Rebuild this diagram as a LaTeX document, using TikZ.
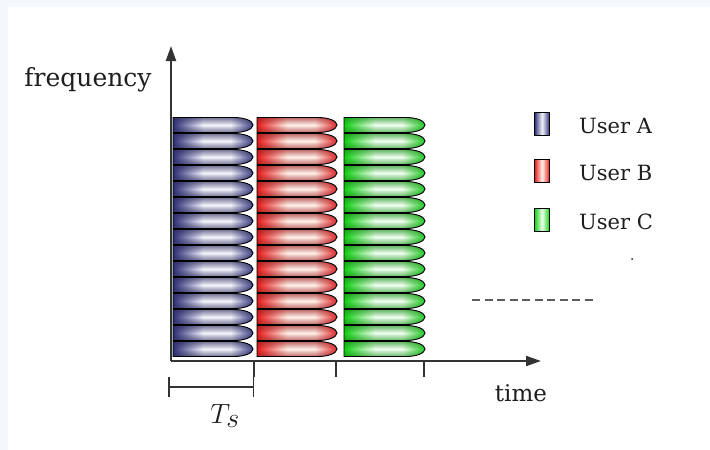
\documentclass[tikz,border=0pt]{standalone}
\usepackage{fontspec}
\setmainfont{DejaVu Serif}
\usetikzlibrary{arrows.meta, fadings}
\definecolor{FrameTint}{HTML}{F3F8FD}
\definecolor{AxisInk}{HTML}{333333}
\definecolor{LabelInk}{HTML}{1E1E1E}
\definecolor{UserADeep}{HTML}{2E2F78}
\definecolor{UserALight}{HTML}{F4F4FB}
\definecolor{UserARim}{HTML}{3F4088}
\definecolor{UserBDeep}{HTML}{E81A1A}
\definecolor{UserBLight}{HTML}{FFF2EA}
\definecolor{UserBRim}{HTML}{E02A2A}
\definecolor{UserCDeep}{HTML}{0FD20F}
\definecolor{UserCLight}{HTML}{F0FFF0}
\definecolor{UserCRim}{HTML}{1FCB1F}
% slot shadings: the path box covers 25bp..75bp
\pgfdeclarehorizontalshading{slotA}{100bp}{color(0bp)=(UserADeep); color(25bp)=(UserADeep);
  color(44bp)=(UserALight); color(61bp)=(UserALight); color(75bp)=(UserARim); color(100bp)=(UserARim)}
\pgfdeclarehorizontalshading{slotB}{100bp}{color(0bp)=(UserBDeep); color(25bp)=(UserBDeep);
  color(44bp)=(UserBLight); color(61bp)=(UserBLight); color(75bp)=(UserBRim); color(100bp)=(UserBRim)}
\pgfdeclarehorizontalshading{slotC}{100bp}{color(0bp)=(UserCDeep); color(25bp)=(UserCDeep);
  color(44bp)=(UserCLight); color(61bp)=(UserCLight); color(75bp)=(UserCRim); color(100bp)=(UserCRim)}
\tikzfading[name=rimfade, top color=transparent!35, bottom color=transparent!35, middle color=transparent!100]
\tikzset{
  userslot/.style={shading=slot#1,
    postaction={fill=User#1Rim!70!black, path fading=rimfade},
    postaction={draw=black, line width=0.9pt}},
  keybox/.style={minimum width=15pt, minimum height=23pt, inner sep=0pt,
    left color=User#1Deep, right color=User#1Deep, middle color=User#1Light,
    postaction={draw=black, line width=1.1pt}},
  axis/.style={AxisInk, line width=2pt},
  tick/.style={AxisInk, line width=1.5pt},
  lbl/.style={text=LabelInk, font=\fontsize{21}{24}\selectfont, inner sep=1pt}
}

\begin{document}
\begin{tikzpicture}[x=1pt, y=-1pt]
  \useasboundingbox (0,0) rectangle (710,450);
  \fill[FrameTint] (0,0) rectangle (710,450);
  \fill[white] (8,7) rectangle (710,450);

  % time slots, one column per user
  \foreach \xa/\xb/\u in {173/253/A, 257/337/B, 344/425/C}{
    \foreach \k in {0,...,14}{
      \pgfmathsetmacro{\yc}{125+16*\k}
      \shade[userslot=\u] (\xa,\yc-7.5) -- (\xb-19,\yc-7.5)
        arc[start angle=-90, end angle=90, x radius=19, y radius=7.5] -- (\xa,\yc+7.5) -- cycle;
    }
  }

  % axes
  \coordinate (origin) at (171,361);
  \coordinate (ytip) at (171,46);
  \coordinate (xtip) at (541,361);
  \draw[axis, -{Triangle[length=15pt, width=10pt]}] (origin) -- (ytip);
  \draw[axis, -{Triangle[length=15pt, width=10pt]}] (origin) -- (xtip);
  \foreach \x in {254,336,424}{\draw[tick] (\x,361) -- (\x,377);}
  \node[lbl, font=\fontsize{25}{28}\selectfont] (freq) at (88,80) {frequency};
  \node[lbl, font=\fontsize{23}{26}\selectfont] (time) at (521,393) {time};

  % slot length
  \coordinate (tsL) at (168,387);
  \coordinate (tsR) at (254,387);
  \draw[tick, {Bar[width=20pt]}-{Bar[width=20pt]}] (tsL) -- (tsR);
  \node[text=LabelInk, font=\fontsize{40}{42}\selectfont, scale=1.12] (ts) at (225,416) {$T_s$};

  % legend
  \foreach \y/\u in {124/A, 171/B, 220/C}{
    \node[keybox=\u] (key\u) at (542,\y) {};
    \node[lbl, anchor=west] (user\u) at (578,\y+2) {User \u};
  }
  \fill[LabelInk] (632,259) circle (1pt);
  \coordinate (dashL) at (472,300);
  \coordinate (dashR) at (596,300);
  \draw[AxisInk!80, line width=1.6pt, dash pattern=on 8pt off 4.5pt] (dashL) -- (dashR);
\end{tikzpicture}
\end{document}
